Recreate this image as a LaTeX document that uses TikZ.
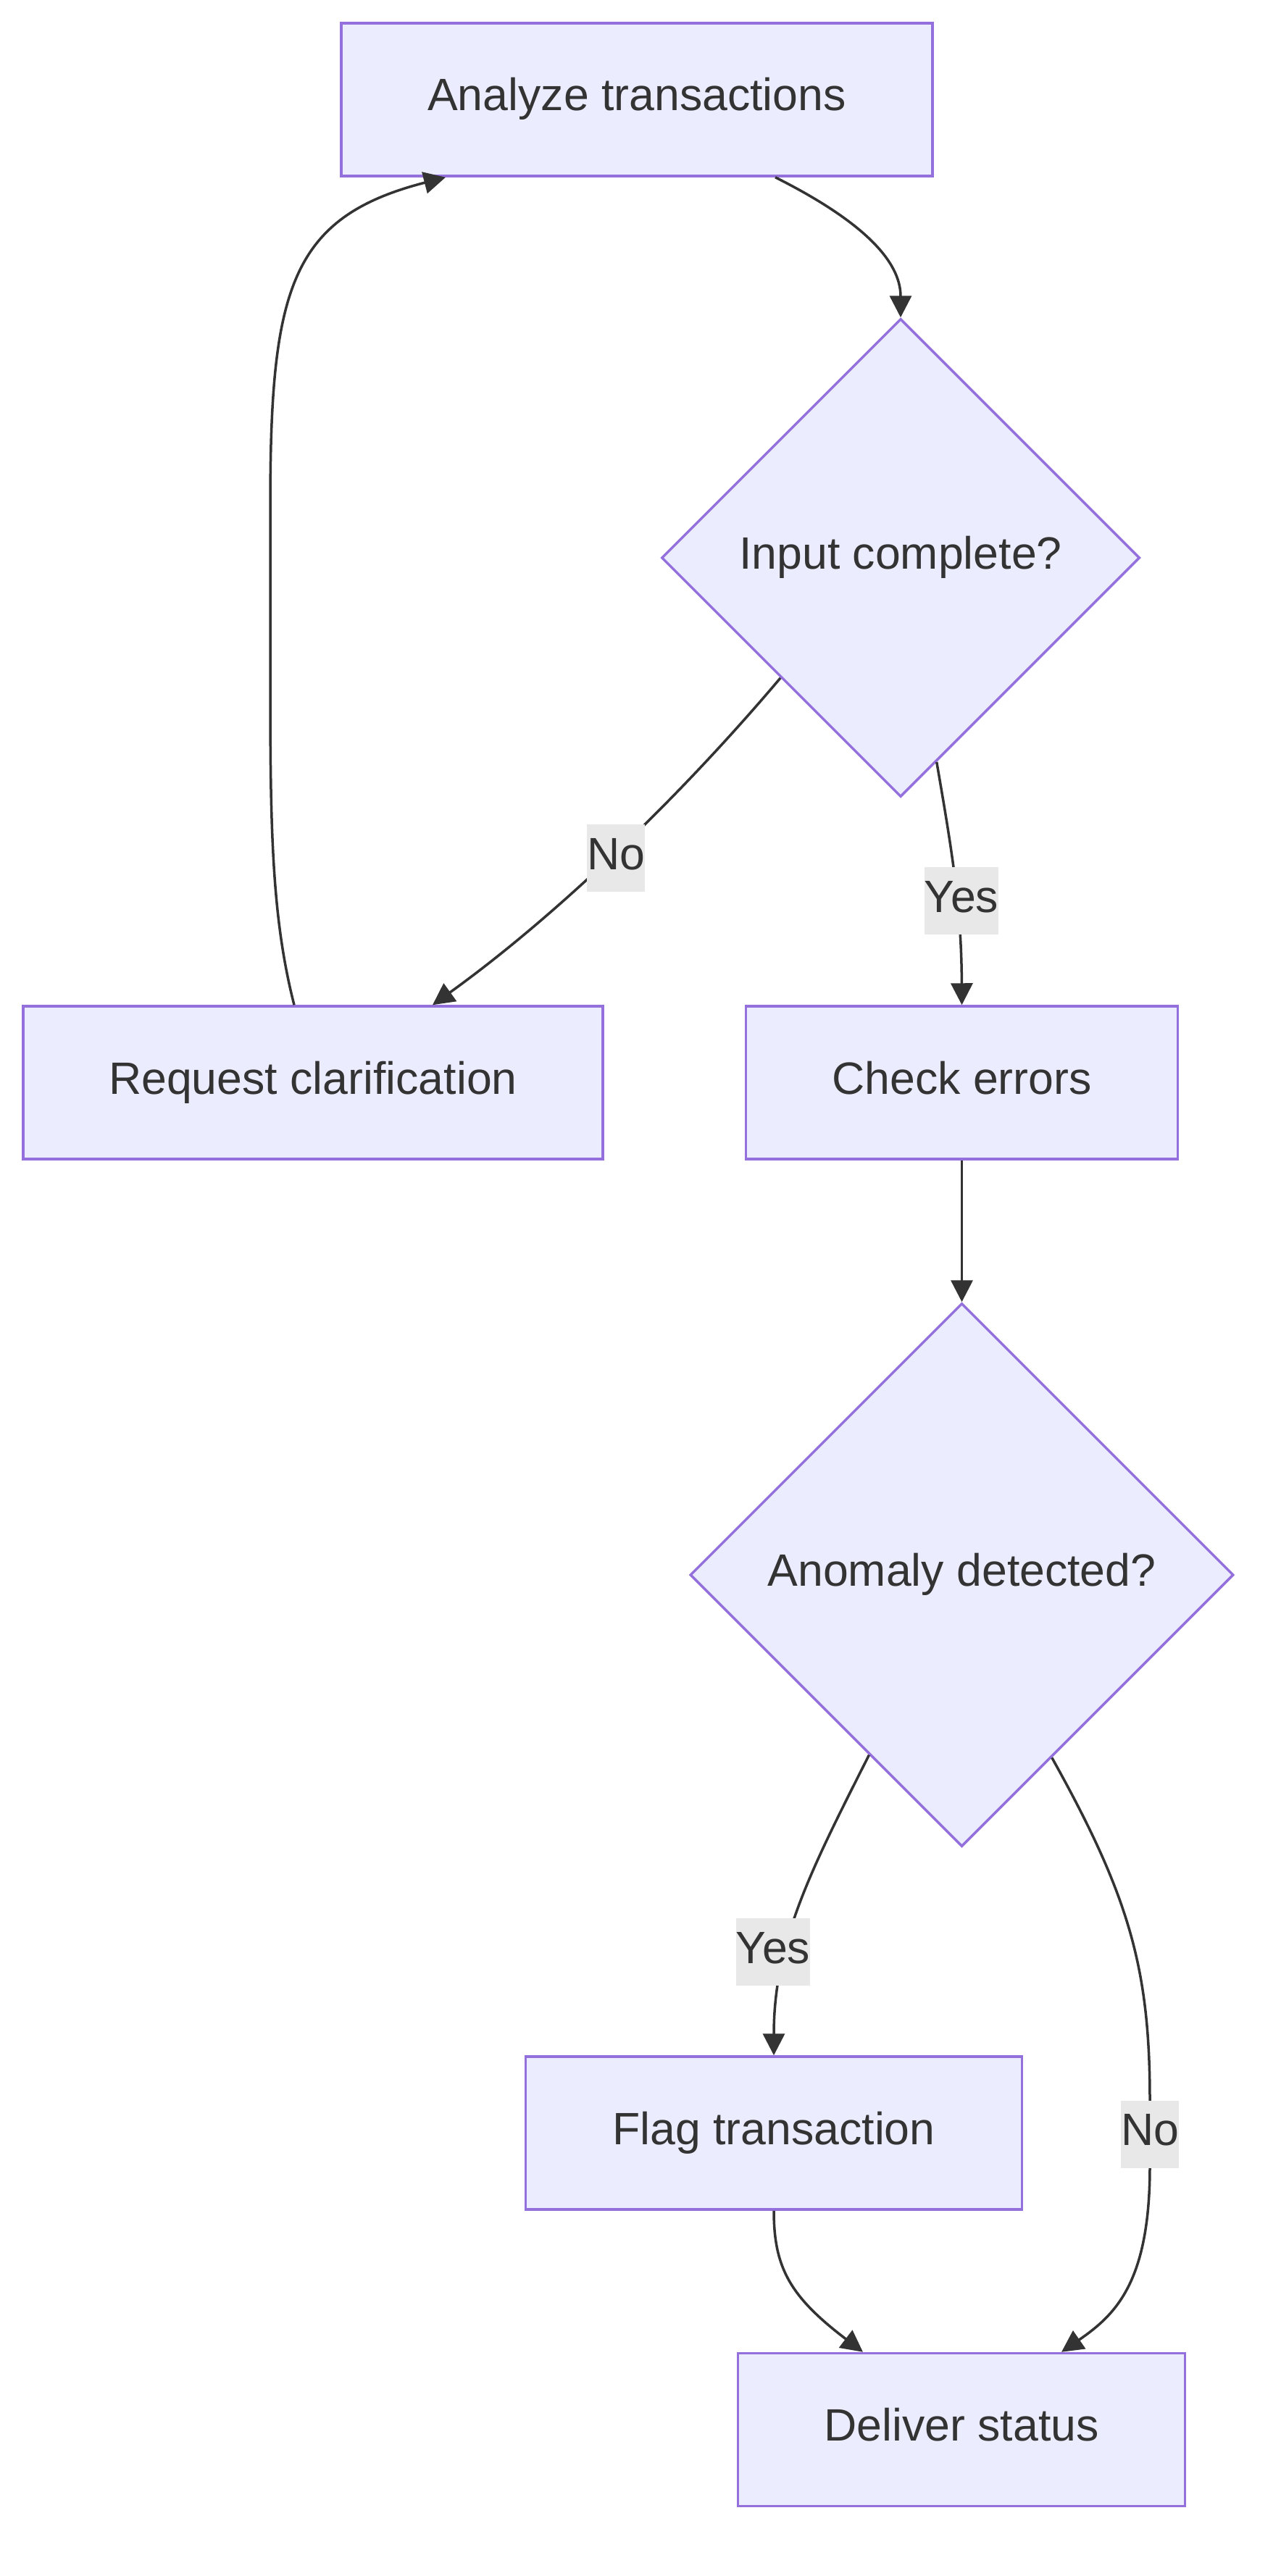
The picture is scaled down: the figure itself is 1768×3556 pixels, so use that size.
\documentclass[tikz,border=0pt]{standalone}
\usepackage{fontspec}
\setmainfont{Liberation Sans}
\usetikzlibrary{shapes.geometric,arrows.meta,calc}
\definecolor{nodefill}{HTML}{ECECFF}
\definecolor{nodeline}{HTML}{9370DB}
\definecolor{ink}{HTML}{333333}
\definecolor{lblbg}{HTML}{E8E8E8}
\newcommand{\dgfont}{\fontsize{62.6}{75}\selectfont}
\begin{document}
\begin{tikzpicture}[x=1pt,y=-1pt,
  box/.style={draw=nodeline,fill=nodefill,line width=3.5pt,minimum height=211pt,inner sep=0pt,text=ink,font=\dgfont,text height=50pt,text depth=19pt},
  decision/.style={diamond,aspect=1,draw=nodeline,fill=nodefill,line width=3.5pt,inner sep=0pt,text=ink,font=\dgfont,text height=50pt,text depth=19pt},
  edge/.style={draw=ink,line width=3.5pt,-{Triangle[length=30pt,width=30pt]}},
  lbl/.style={fill=lblbg,text=ink,inner xsep=0pt,inner ysep=12pt,text height=50pt,text depth=19pt,font=\dgfont}]
\useasboundingbox (0,0) rectangle (1768,3556);
\fill[white] (0,0) rectangle (1768,3556);

\node[box,minimum width=816pt] (A) at (879,137.5) {Analyze transactions};
\node[decision,minimum width=660pt,minimum height=660pt] (B) at (1243,770) {Input complete?};
\node[box,minimum width=800pt] (C) at (432,1494.5) {Request clarification};
\node[box,minimum width=596pt] (D) at (1327.5,1494.5) {Check errors};
\node[decision,minimum width=750pt,minimum height=750pt] (E) at (1327.5,2174) {Anomaly detected?};
\node[box,minimum width=685pt] (F) at (1068,2944.5) {Flag transaction};
\node[box,minimum width=617pt] (G) at (1327,3354) {Deliver status};

% edges
\draw[edge] ([xshift=191pt]A.south) .. controls (1190,305) and (1243,360) .. (B.north);
\draw[edge] (B.south west) .. controls (930,1110) and (760,1270) .. ([xshift=165pt]C.north);
\draw[edge] ($(B.south)!0.15!(B.east)$) .. controls (1313,1170) and (1327,1250) .. (D.north);
\draw[edge] ([xshift=-26pt]C.north) .. controls (376,1270) and (373,1150) .. (373,950) -- (373,700) .. controls (373,400) and (400,300) .. ([xshift=-264pt]A.south);
\draw[edge] (D.south) -- (E.north);
\draw[edge] ($(E.south)!0.34!(E.west)$) .. controls (1120,2580) and (1068,2680) .. (F.north);
\draw[edge] ($(E.south)!0.33!(E.east)$) .. controls (1560,2620) and (1587,2720) .. (1587,2900) -- (1587,2990) .. controls (1587,3150) and (1540,3195) .. ([xshift=138pt]G.north);
\draw[edge] (F.south) .. controls (1068,3130) and (1090,3170) .. ([xshift=-136pt]G.north);

% edge labels
\node[lbl] (l1) at (850,1184.5) {No};
\node[lbl] (l2) at (1327,1243.5) {Yes};
\node[lbl] (l3) at (1067,2694.5) {Yes};
\node[lbl] (l4) at (1587,2946) {No};
\end{tikzpicture}
\end{document}
